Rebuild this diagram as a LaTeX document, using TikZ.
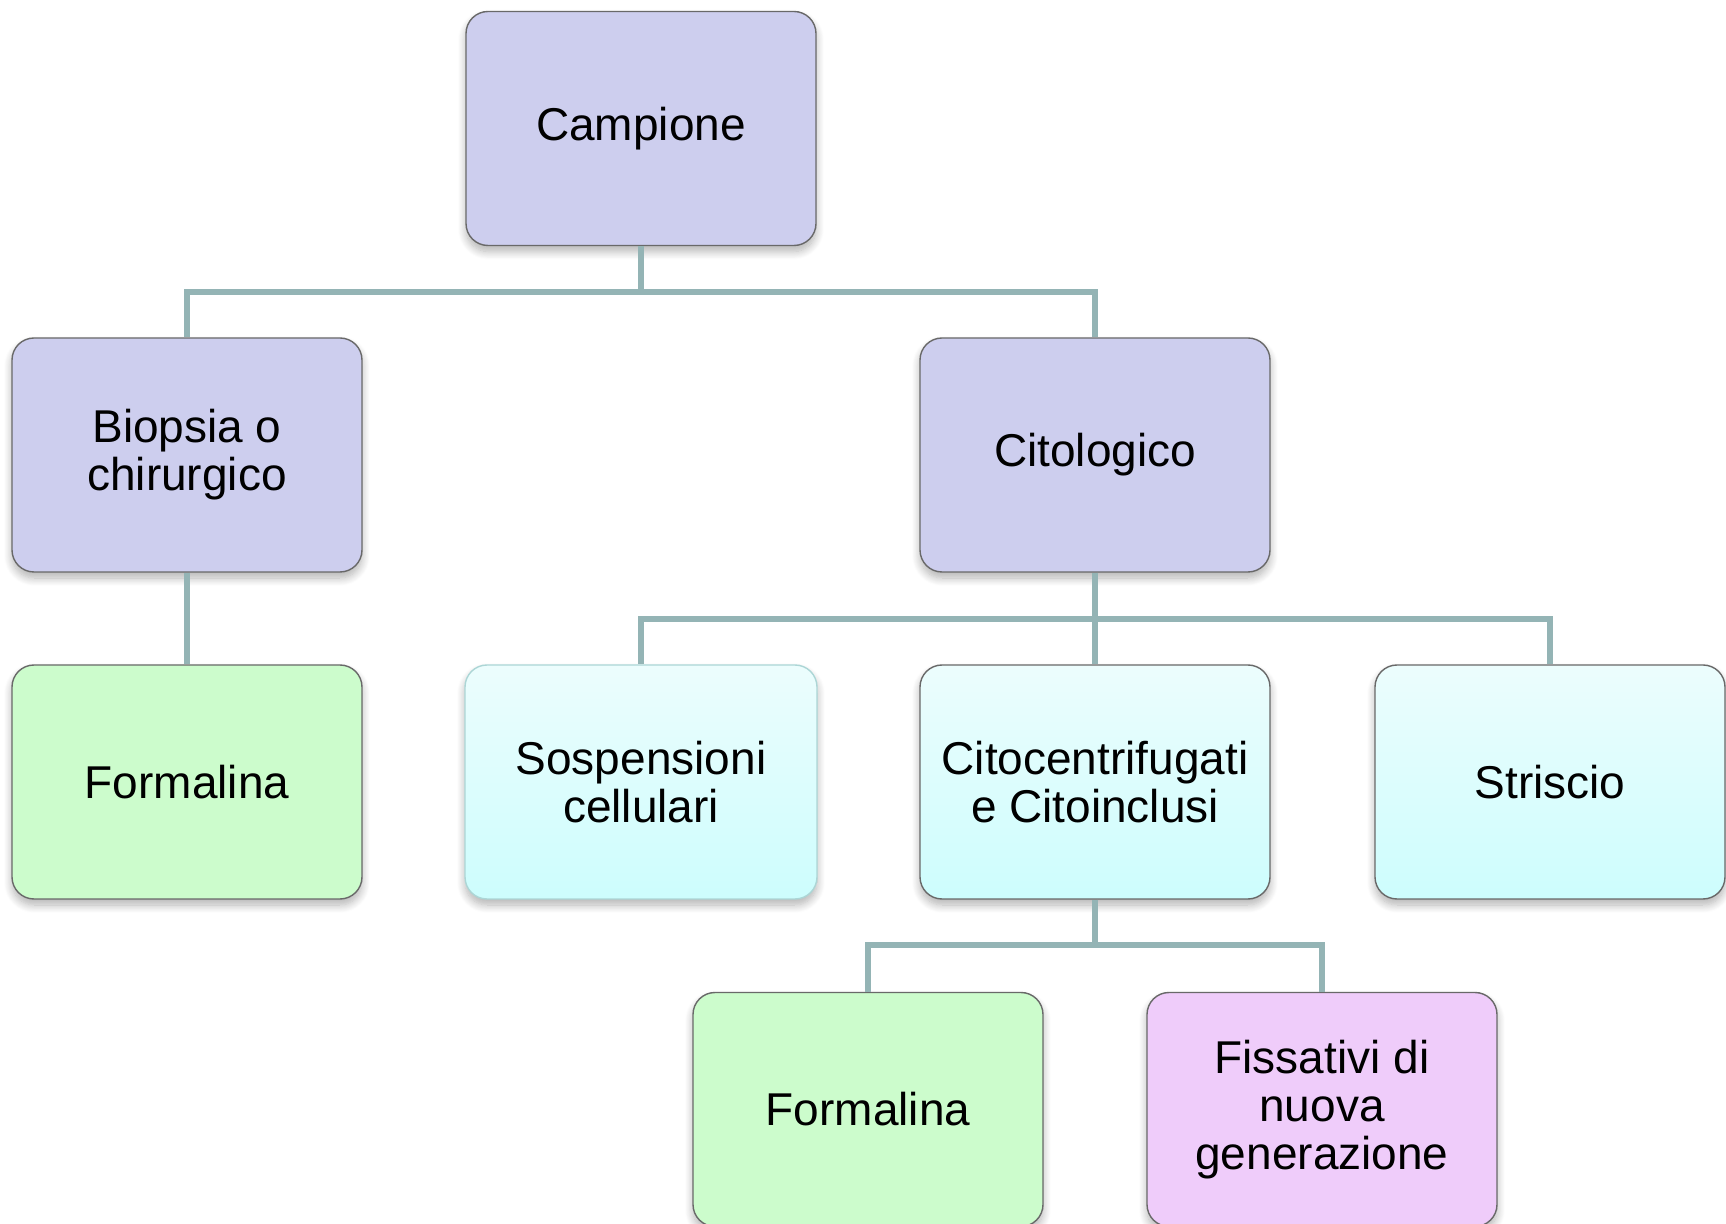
\documentclass[tikz,border=0pt]{standalone}
\usepackage{fontspec}
\setmainfont{Liberation Sans}
\usetikzlibrary{shadows,shadows.blur}
\definecolor{lav}{RGB}{205,206,238}
\definecolor{grn}{RGB}{204,252,204}
\definecolor{cyantop}{RGB}{236,253,253}
\definecolor{cyanbot}{RGB}{205,253,253}
\definecolor{purp}{RGB}{239,204,250}
\definecolor{bordergray}{RGB}{105,105,105}
\definecolor{softteal}{RGB}{172,214,214}
\definecolor{conncol}{RGB}{148,180,181}
\tikzset{
  box/.style={rounded corners=11pt, draw=bordergray, line width=0.7pt,
    minimum width=175pt, minimum height=117pt, align=center,
    font=\fontsize{23}{24}\selectfont,
    blur shadow={shadow xshift=0pt, shadow yshift=-3pt, shadow blur radius=4pt, shadow blur steps=10, shadow opacity=30}},
  lavbox/.style={box, fill=lav},
  grnbox/.style={box, fill=grn},
  cyanbox/.style={box, top color=cyantop, bottom color=cyanbot},
  purpbox/.style={box, fill=purp},
  conn/.style={draw=conncol, line width=2.8pt}
}
\begin{document}
\begin{tikzpicture}[x=0.5pt, y=-0.5pt]
\useasboundingbox (0,0) rectangle (1726,1224);
\clip (0,0) rectangle (1726,1224);
% nodes
\node[lavbox] (camp) at (641,128.5) {Campione};
\node[lavbox] (bio) at (187,455) {Biopsia o\\chirurgico};
\node[lavbox] (cito) at (1095,455) {Citologico};
\node[grnbox] (form1) at (187,782) {Formalina};
\node[cyanbox, draw=softteal, minimum width=176pt] (sosp) at (641,782) {Sospensioni\\cellulari};
\node[cyanbox] (citoc) at (1095,782) {Citocentrifugati\\e Citoinclusi};
\node[cyanbox] (stri) at (1550,782) {Striscio};
\node[grnbox] (form2) at (868,1109.5) {Formalina};
\node[purpbox] (fiss) at (1322,1109.5) {Fissativi di\\nuova\\generazione};
% connectors
\coordinate (bus1) at (641,292);
\coordinate (bus2) at (1095,619);
\coordinate (bus3) at (1095,945);
\draw[conn] (camp.south) -- (bus1);
\draw[conn] (bus1) -| (bio.north);
\draw[conn] (bus1) -| (cito.north);
\draw[conn] (bio.south) -- (form1.north);
\draw[conn] (cito.south) -- (bus2);
\draw[conn] (bus2) -| (sosp.north);
\draw[conn] (bus2) -- (citoc.north);
\draw[conn] (bus2) -| (stri.north);
\draw[conn] (citoc.south) -- (bus3);
\draw[conn] (bus3) -| (form2.north);
\draw[conn] (bus3) -| (fiss.north);
\end{tikzpicture}
\end{document}
